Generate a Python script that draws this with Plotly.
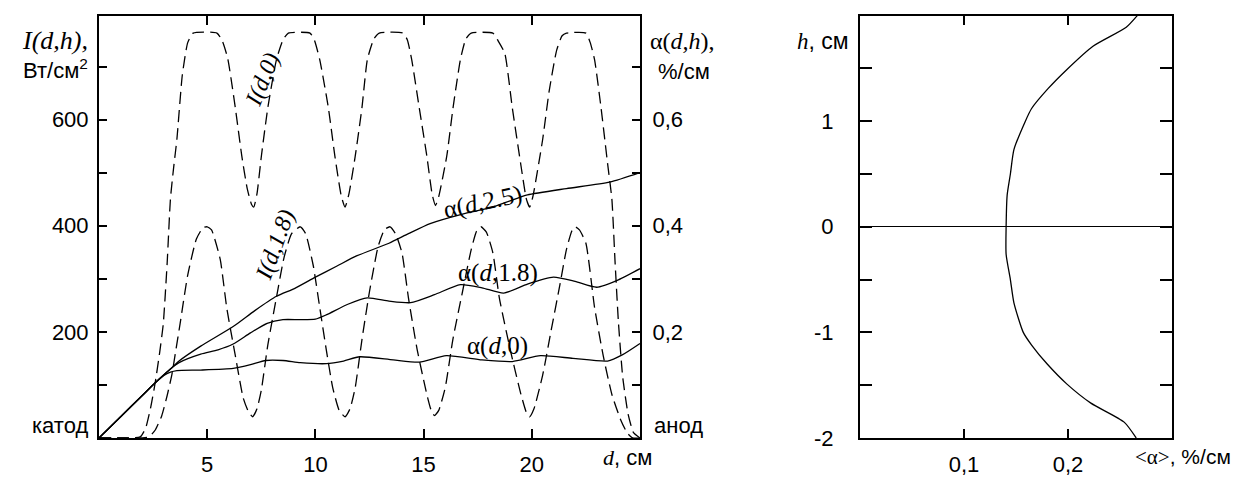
import plotly.graph_objects as go

# ---------------- data ----------------
# I(d,0), W/cm^2
d_I0 = [0, 1.0, 1.9, 2.15, 2.4, 2.6, 2.8, 2.97, 3.15, 3.3, 3.45, 3.6, 3.85, 4.1, 4.35,
        5.45, 5.7, 5.95, 6.3, 6.6, 6.85, 7.05, 7.15, 7.3, 7.5, 7.8, 8.2, 8.5, 8.75,
        9.75, 9.95, 10.2, 10.6, 10.9, 11.2, 11.37, 11.55, 11.84, 12.15, 12.4, 12.7, 12.95,
        14.05, 14.25, 14.45, 14.8, 15.15, 15.4, 15.55, 15.7, 16.07, 16.36, 16.7, 16.95, 17.2,
        18.2, 18.45, 18.75, 19.1, 19.5, 19.75, 19.9, 20.05, 20.5, 20.8, 21.15, 21.4, 21.6,
        22.5, 22.7, 22.9, 23.2, 23.5, 23.7, 23.85, 24.0, 24.2, 24.45, 24.7, 25.0]
I0 = [0, 0, 2, 18, 60, 105, 160, 215, 330, 450, 510, 563, 684, 745, 763,
      763, 748, 715, 622, 531, 470, 440, 435, 460, 530, 622, 713, 750, 763,
      763, 750, 713, 622, 531, 455, 435, 460, 531, 622, 713, 752, 763,
      763, 750, 713, 622, 531, 458, 438, 455, 531, 622, 713, 752, 763,
      763, 748, 725, 622, 513, 450, 435, 455, 562, 653, 731, 758, 763,
      763, 745, 713, 622, 518, 450, 330, 220, 115, 45, 10, 0]

# I(d,1.8), W/cm^2
d_I18 = [0, 1.0, 2.3, 2.6, 2.9, 3.15, 3.37, 3.55, 3.75, 4.1, 4.5, 4.8, 5.0, 5.2, 5.6, 5.9, 6.3, 6.66,
         6.9, 7.1, 7.3, 7.5, 7.8, 8.2, 8.55, 8.9, 9.3, 9.55, 9.9, 10.2, 10.5, 10.8, 11.1, 11.37,
         11.6, 11.84, 12.15, 12.5, 12.9, 13.2, 13.45, 13.7, 14.0, 14.3, 14.7, 15.15, 15.35, 15.5,
         15.7, 16.0, 16.35, 16.8, 17.2, 17.45, 17.65, 17.9, 18.2, 18.5, 19.0, 19.5, 19.75, 19.9,
         20.1, 20.5, 20.9, 21.3, 21.6, 21.85, 22.0, 22.2, 22.5, 22.9, 23.3, 23.7, 24.1, 24.4, 24.66, 25.0]
I18 = [0, 0, 2, 15, 42, 80, 120, 165, 216, 307, 375, 396, 398, 392, 337, 246, 155, 76,
       50, 40, 55, 90, 175, 265, 340, 385, 398, 385, 325, 246, 167, 95, 52, 40,
       55, 95, 185, 276, 361, 393, 398, 385, 349, 264, 167, 82, 52, 42,
       52, 95, 185, 276, 355, 390, 398, 388, 349, 264, 167, 82, 48, 40,
       55, 118, 204, 289, 355, 390, 398, 392, 367, 246, 155, 82, 35, 10, 0, 0]

# alpha(d,0), %/cm
d_a0 = [0, 1.0, 2.0, 2.6, 3.0, 3.3, 3.6, 4.7, 6.2, 7.0, 7.7, 8.5, 9.3, 10.5, 11.3, 12.05,
        13.6, 14.8, 16.05, 17.7, 19.1, 20.4, 21.9, 23.5, 24.2, 25.0]
a0 = [0, 0.04, 0.08, 0.104, 0.118, 0.124, 0.127, 0.128, 0.131, 0.138, 0.146, 0.146, 0.142,
      0.140, 0.145, 0.153, 0.147, 0.143, 0.155, 0.147, 0.144, 0.155, 0.150, 0.145, 0.157, 0.178]

# alpha(d,1.8), %/cm
d_a18 = [0, 1.0, 2.0, 2.6, 3.3, 3.7, 4.7, 5.5, 6.2, 7.0, 7.77, 8.5, 9.3, 10.0, 10.5, 11.5,
         12.4, 13.4, 14.4, 15.5, 16.7, 17.7, 18.7, 19.8, 21.0, 22.0, 23.0, 24.0, 25.0]
a18 = [0, 0.04, 0.08, 0.104, 0.13, 0.142, 0.158, 0.166, 0.177, 0.198, 0.216, 0.223, 0.223,
       0.224, 0.232, 0.252, 0.264, 0.258, 0.255, 0.270, 0.289, 0.283, 0.273, 0.290, 0.303,
       0.295, 0.284, 0.298, 0.319]

# alpha(d,2.5), %/cm
d_a25 = [0, 1.0, 2.0, 2.6, 3.3, 3.7, 4.7, 6.2, 7.2, 8.2, 9.05, 10.0, 11.0, 11.9, 13.4, 14.3,
         15.3, 16.8, 18.1, 19.0, 19.8, 21.6, 23.6, 25.0]
a25 = [0, 0.04, 0.08, 0.104, 0.13, 0.145, 0.173, 0.21, 0.24, 0.267, 0.282, 0.303, 0.324,
       0.343, 0.367, 0.385, 0.404, 0.422, 0.434, 0.447, 0.458, 0.470, 0.482, 0.500]

# <alpha>(h), right panel
h_vals = [2.0, 1.89, 1.71, 1.49, 1.31, 1.12, 1.0, 0.73, 0.5, 0.3, 0.0, -0.26, -0.5, -0.72,
          -1.0, -1.12, -1.30, -1.49, -1.67, -1.85, -2.0]
a_mean = [0.2666, 0.256, 0.224, 0.199, 0.181, 0.165, 0.159, 0.148, 0.1446, 0.1415, 0.1405,
          0.1405, 0.1446, 0.148, 0.157, 0.165, 0.180, 0.199, 0.222, 0.254, 0.2656]

I_ticks = [0, 100, 200, 300, 400, 500, 600, 700]
I_ticktext = [" ", " ", "200", " ", "400", " ", "600", " "]
a_ticks = [0, 0.1, 0.2, 0.3, 0.4, 0.5, 0.6, 0.7]
a_ticktext = [" ", " ", "0,2", " ", "0,4", " ", "0,6", " "]
d_ticks = [5, 10, 15, 20]
h_ticks = [-2, -1.5, -1, -0.5, 0, 0.5, 1, 1.5]
h_ticktext = ["-2", " ", "-1", " ", "0", " ", "1", " "]
am_ticks = [0.1, 0.2]
am_ticktext = ["0,1", "0,2"]

# ---------------- figure ----------------
W, H = 1244, 486
SANS = "Liberation Sans"
SERIF = "Liberation Serif"
DASH = "12px,6px"

def px(x):
    return x / W

def py(y):
    return 1 - y / H

fig = go.Figure()
fig.add_trace(go.Scatter(x=d_I0, y=I0, mode="lines", xaxis="x", yaxis="y",
                         line=dict(color="black", width=1.3, dash=DASH, shape="spline", smoothing=0.5)))
fig.add_trace(go.Scatter(x=d_I18, y=I18, mode="lines", xaxis="x", yaxis="y",
                         line=dict(color="black", width=1.3, dash=DASH, shape="spline", smoothing=0.5)))
for dd, aa in [(d_a0, a0), (d_a18, a18), (d_a25, a25)]:
    fig.add_trace(go.Scatter(x=dd, y=aa, mode="lines", xaxis="x", yaxis="y2",
                             line=dict(color="black", width=1.3, shape="spline", smoothing=0.6)))
fig.add_trace(go.Scatter(x=a_mean, y=h_vals, mode="lines", xaxis="x2", yaxis="y3",
                         line=dict(color="black", width=1.3, shape="spline", smoothing=0.6)))

ydom = [1 - 450 / H, 1 - 16 / H]
axis_common = dict(showline=True, linecolor="black", linewidth=2, ticks="inside",
                   tickcolor="black", tickwidth=1.5, showgrid=False, zeroline=False,
                   tickfont=dict(family=SANS, size=22, color="black"))

fig.update_layout(
    width=W, height=H, margin=dict(l=0, r=0, t=0, b=0),
    paper_bgcolor="white", plot_bgcolor="white", showlegend=False,
    xaxis=dict(domain=[px(99), px(640)], range=[0, 25], tickvals=d_ticks, ticklen=9,
               mirror="ticks", anchor="y", ticklabelstandoff=6, **axis_common),
    yaxis=dict(domain=ydom, range=[0, 796], tickvals=I_ticks, ticktext=I_ticktext, ticklen=8,
               anchor="x", ticklabelstandoff=4, **axis_common),
    yaxis2=dict(range=[0, 0.796], tickvals=a_ticks, ticktext=a_ticktext, ticklen=8,
                overlaying="y", side="right", anchor="x", ticklabelstandoff=6, **axis_common),
    xaxis2=dict(domain=[px(860), px(1172)], range=[0, 0.3], tickvals=am_ticks,
                ticktext=am_ticktext, ticklen=9, mirror="ticks", anchor="y3",
                ticklabelstandoff=6, **axis_common),
    yaxis3=dict(domain=ydom, range=[-2, 2], tickvals=h_ticks, ticktext=h_ticktext, ticklen=12,
                mirror="ticks", anchor="x2", ticklabelstandoff=20,
                **{k: v for k, v in axis_common.items() if k != "zeroline"},
                zeroline=True, zerolinecolor="black", zerolinewidth=1.2),
)

ann = []

def add(text, x, y, xanchor="center", size=21, family=SANS, angle=0):
    ann.append(dict(text=text, x=px(x), y=py(y), xref="paper", yref="paper",
                    xanchor=xanchor, yanchor="middle", showarrow=False, textangle=angle,
                    font=dict(family=family, size=size, color="black")))

serif_i = "<span style=\"font-family:Liberation Serif;font-style:italic\">%s</span>"
serif = "<span style=\"font-family:Liberation Serif\">%s</span>"

add("<i>I(d,h),</i>", 90, 42, "right", 26, SERIF)
add("Вт/см<sup>2</sup>", 90, 71, "right", 22)
add("α(<i>d,h</i>),", 648, 42, "left", 24, SERIF)
add("%/см", 656, 73, "left", 22)
add("катод", 90, 437, "right", 22)
add("анод", 652, 437, "left", 22)
add(serif_i % "d" + ", см", 627, 470, "center", 22)
add(serif_i % "h" + ", см", 851, 42, "right", 23)
add(serif % "&lt;α&gt;" + ", %/см", 1133, 470, "left", 21)
add("<i>I(d,0)</i>", 262, 82, "center", 24, SERIF, -68)
add("<i>I(d,1.8)</i>", 275, 252, "center", 24, SERIF, -70)
add("α(<i>d</i>,2.5)", 483, 208, "center", 25, SERIF, -12)
add("α(<i>d</i>,1.8)", 498, 280, "center", 25, SERIF)
add("α(<i>d</i>,0)", 497, 356, "center", 25, SERIF)

fig.update_layout(annotations=ann)
fig.write_html("out.html")
